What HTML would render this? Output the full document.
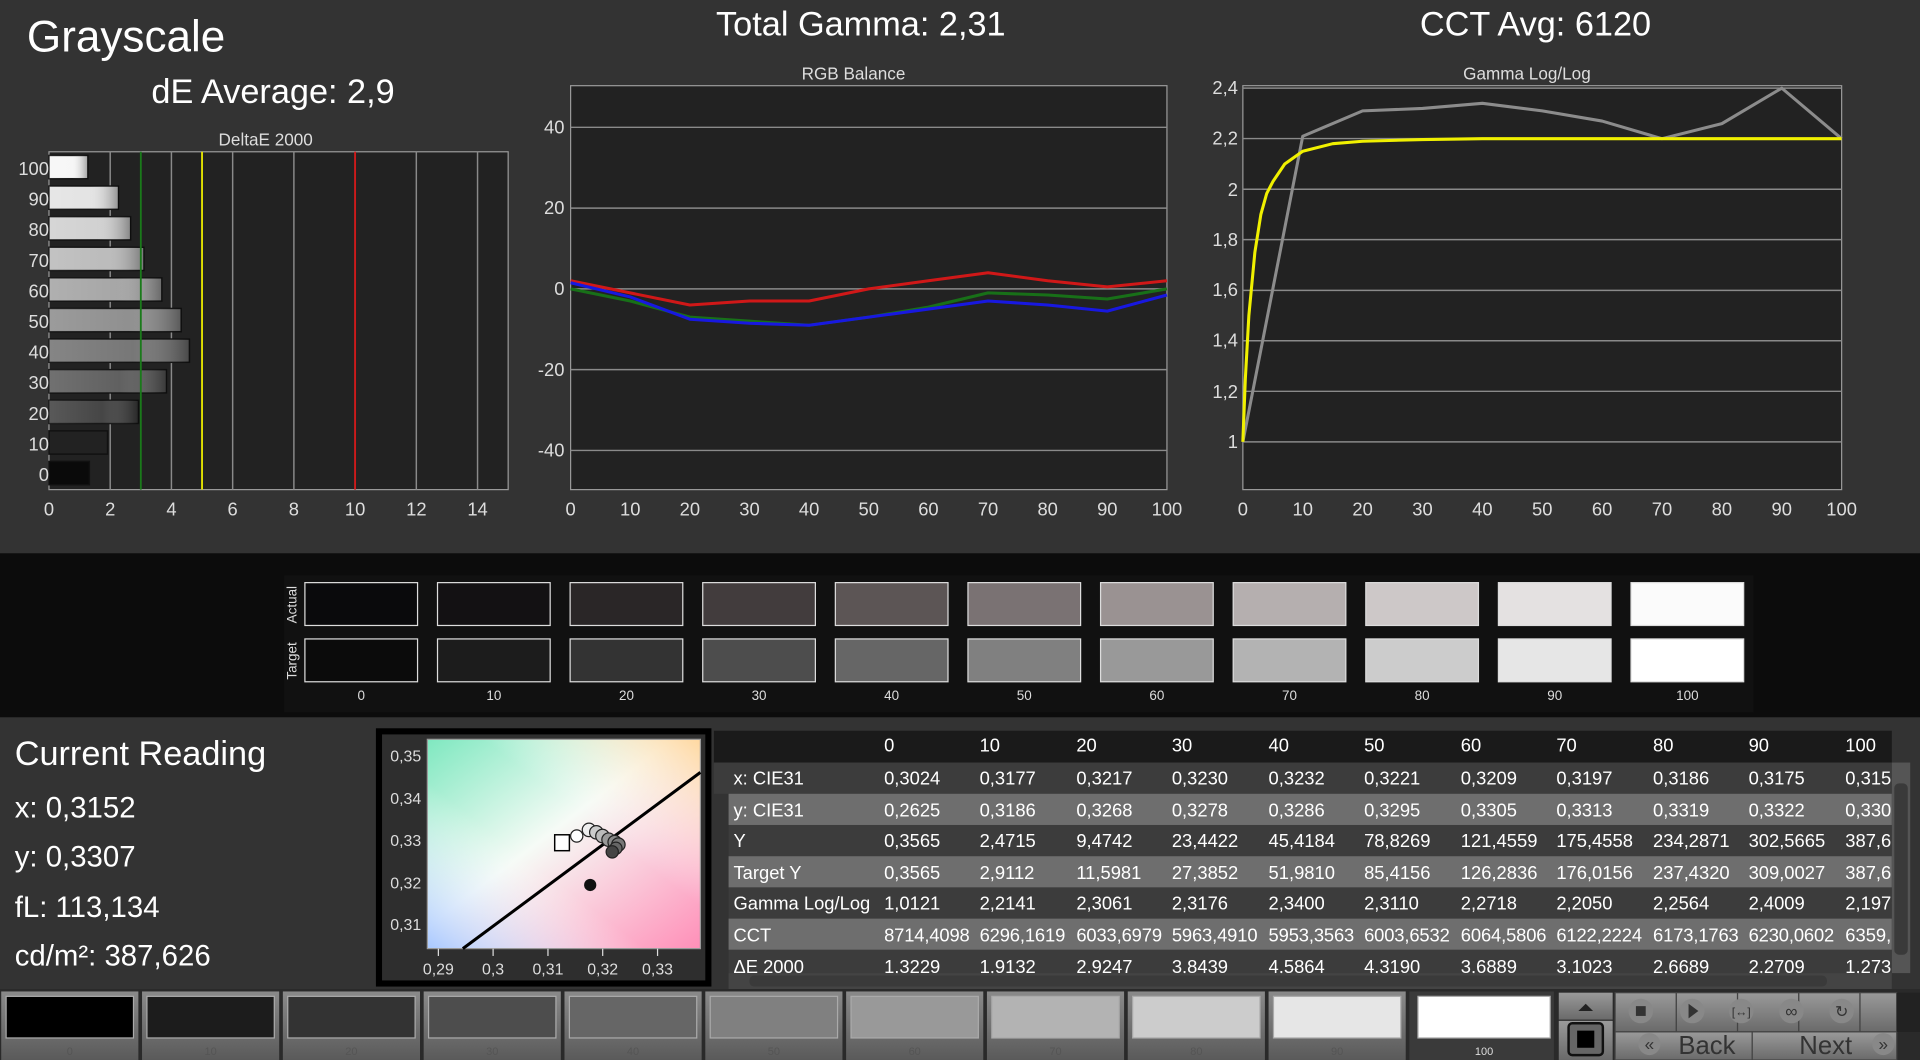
<!DOCTYPE html>
<html><head><meta charset="utf-8"><style>
html,body{margin:0;padding:0;background:#333;overflow:hidden}
svg{display:block}
text{font-family:"Liberation Sans",sans-serif}
</style></head><body>
<svg width="1920" height="1060" viewBox="0 0 1568 866" preserveAspectRatio="none" xmlns="http://www.w3.org/2000/svg">
<defs>
<linearGradient id="bar" x1="0" x2="1" y1="0" y2="0"><stop offset="0" stop-color="#fff" stop-opacity=".15"/><stop offset=".6" stop-color="#fff" stop-opacity=".05"/><stop offset="1" stop-color="#000" stop-opacity=".35"/></linearGradient>
<linearGradient id="cieA" x1="0" y1="0" x2="1" y2="1"><stop offset="0" stop-color="#7fe8c0"/><stop offset=".45" stop-color="#f6fbf6"/><stop offset="1" stop-color="#ff8fb8"/></linearGradient>
<linearGradient id="cieB" x1="0" y1="1" x2="1" y2="0"><stop offset="0" stop-color="#a8c8ff"/><stop offset=".4" stop-color="#fff" stop-opacity="0"/><stop offset=".6" stop-color="#fff" stop-opacity="0"/><stop offset="1" stop-color="#ffd8a0"/></linearGradient>
<linearGradient id="btn" x1="0" y1="0" x2="0" y2="1"><stop offset="0" stop-color="#8a8a8a"/><stop offset="1" stop-color="#5a5a5a"/></linearGradient>
<linearGradient id="ctl" x1="0" y1="0" x2="0" y2="1"><stop offset="0" stop-color="#9a9a9a"/><stop offset="1" stop-color="#6a6a6a"/></linearGradient>
</defs>
<rect width="1568" height="866" fill="#333"/>
<!-- Titles -->
<text x="22" y="42" font-size="36" fill="#fff">Grayscale</text>
<text x="223" y="84" font-size="28" fill="#fff" text-anchor="middle">dE Average: 2,9</text>
<text x="703" y="29" font-size="28" fill="#fff" text-anchor="middle">Total Gamma: 2,31</text>
<text x="1254" y="29" font-size="28" fill="#fff" text-anchor="middle">CCT Avg: 6120</text>

<!-- DeltaE chart -->
<text x="217" y="119" font-size="14" fill="#ddd" text-anchor="middle">DeltaE 2000</text>
<rect x="40" y="124" width="375" height="276" fill="#222" stroke="#999"/>
<g stroke="#8a8a8a" stroke-width="1.2">
<line x1="90" y1="124" x2="90" y2="400"/><line x1="140" y1="124" x2="140" y2="400"/><line x1="190" y1="124" x2="190" y2="400"/><line x1="240" y1="124" x2="240" y2="400"/><line x1="290" y1="124" x2="290" y2="400"/><line x1="340" y1="124" x2="340" y2="400"/><line x1="390" y1="124" x2="390" y2="400"/>
</g>
<g stroke="#111" stroke-width="1.2">
<rect x="40" y="127" width="31.8" height="19" fill="#f6f6f6"/>
<rect x="40" y="152" width="56.8" height="19" fill="#e2e2e2"/>
<rect x="40" y="177" width="66.7" height="19" fill="#cfcfcf"/>
<rect x="40" y="202" width="77.6" height="19" fill="#b8b8b8"/>
<rect x="40" y="227" width="92.2" height="19" fill="#a2a2a2"/>
<rect x="40" y="252" width="108" height="19" fill="#8a8a8a"/>
<rect x="40" y="277" width="114.7" height="19" fill="#707070"/>
<rect x="40" y="302" width="96" height="19" fill="#585858"/>
<rect x="40" y="327" width="73.1" height="19" fill="#3c3c3c"/>
<rect x="40" y="352" width="47.8" height="19" fill="#222"/>
<rect x="40" y="377" width="33" height="19" fill="#0a0a0a"/>
</g>
<g fill="url(#bar)"><rect x="40" y="127" width="31.8" height="19"/><rect x="40" y="152" width="56.8" height="19"/><rect x="40" y="177" width="66.7" height="19"/><rect x="40" y="202" width="77.6" height="19"/><rect x="40" y="227" width="92.2" height="19"/><rect x="40" y="252" width="108" height="19"/><rect x="40" y="277" width="114.7" height="19"/><rect x="40" y="302" width="96" height="19"/><rect x="40" y="327" width="73.1" height="19"/></g>
<line x1="115" y1="124" x2="115" y2="400" stroke="#1a7a1a" stroke-width="1.5"/>
<line x1="165" y1="124" x2="165" y2="400" stroke="#e8e800" stroke-width="1.5"/>
<line x1="290" y1="124" x2="290" y2="400" stroke="#d01818" stroke-width="1.5"/>
<g font-size="15" fill="#ddd" text-anchor="end">
<text x="40" y="143">100</text><text x="40" y="168">90</text><text x="40" y="193">80</text><text x="40" y="218">70</text><text x="40" y="243">60</text><text x="40" y="268">50</text><text x="40" y="293">40</text><text x="40" y="318">30</text><text x="40" y="343">20</text><text x="40" y="368">10</text><text x="40" y="393">0</text>
</g>
<g font-size="15" fill="#ddd" text-anchor="middle">
<text x="40" y="421">0</text><text x="90" y="421">2</text><text x="140" y="421">4</text><text x="190" y="421">6</text><text x="240" y="421">8</text><text x="290" y="421">10</text><text x="340" y="421">12</text><text x="390" y="421">14</text>
</g>

<!-- RGB Balance -->
<text x="697" y="65" font-size="14" fill="#ddd" text-anchor="middle">RGB Balance</text>
<rect x="466" y="70" width="487" height="330" fill="#222" stroke="#999"/>
<g stroke="#8a8a8a" stroke-width="1.2">
<line x1="466" y1="104" x2="953" y2="104"/><line x1="466" y1="170" x2="953" y2="170"/><line x1="466" y1="236" x2="953" y2="236"/><line x1="466" y1="302" x2="953" y2="302"/><line x1="466" y1="368" x2="953" y2="368"/>
</g>
<g fill="none" stroke-width="2.5" stroke-linejoin="round">
<polyline stroke="#d01818" points="466,229.4 514.7,239.3 563.4,249.2 612.1,245.9 660.8,245.9 709.5,236 758.2,229.4 806.9,222.8 855.6,229.4 904.3,234.4 953,229.4"/>
<polyline stroke="#187018" points="466,236 514.7,245.9 563.4,259.1 612.1,262.4 660.8,265.7 709.5,259.1 758.2,250.9 806.9,239.3 855.6,241 904.3,244.3 953,236"/>
<polyline stroke="#1818e0" points="466,231 514.7,242.6 563.4,260.8 612.1,264.1 660.8,265.7 709.5,259.1 758.2,252.5 806.9,245.9 855.6,249.2 904.3,254.2 953,241"/>
</g>
<g font-size="15" fill="#ddd" text-anchor="end">
<text x="461" y="109">40</text><text x="461" y="175">20</text><text x="461" y="241">0</text><text x="461" y="307">-20</text><text x="461" y="373">-40</text>
</g>
<g font-size="15" fill="#ddd" text-anchor="middle">
<text x="466" y="421">0</text><text x="514.7" y="421">10</text><text x="563.4" y="421">20</text><text x="612.1" y="421">30</text><text x="660.8" y="421">40</text><text x="709.5" y="421">50</text><text x="758.2" y="421">60</text><text x="806.9" y="421">70</text><text x="855.6" y="421">80</text><text x="904.3" y="421">90</text><text x="953" y="421">100</text>
</g>

<!-- Gamma -->
<text x="1247" y="65" font-size="14" fill="#ddd" text-anchor="middle">Gamma Log/Log</text>
<rect x="1015" y="70" width="489" height="330" fill="#222" stroke="#999"/>
<g stroke="#8a8a8a" stroke-width="1.2">
<line x1="1015" y1="72" x2="1504" y2="72"/><line x1="1015" y1="113.2" x2="1504" y2="113.2"/><line x1="1015" y1="154.6" x2="1504" y2="154.6"/><line x1="1015" y1="195.8" x2="1504" y2="195.8"/><line x1="1015" y1="237.2" x2="1504" y2="237.2"/><line x1="1015" y1="278.4" x2="1504" y2="278.4"/><line x1="1015" y1="319.7" x2="1504" y2="319.7"/><line x1="1015" y1="361" x2="1504" y2="361"/>
</g>
<polyline fill="none" stroke="#8c8c8c" stroke-width="2.5" stroke-linejoin="round" points="1015,361 1063.9,111.3 1112.8,90.6 1161.7,88.6 1210.6,84.4 1259.5,90.6 1308.4,98.9 1357.3,113.3 1406.2,101 1455.1,72 1504,113.3"/>
<polyline fill="none" stroke="#f0f000" stroke-width="2.5" stroke-linejoin="round" points="1015,361 1017,310 1019.9,257.8 1024.8,206.2 1029.7,175.2 1034.5,158 1039.5,148.4 1049.2,134 1063.9,123.6 1088.4,117.4 1112.8,115.4 1161.7,114 1210.6,113.3 1504,113.3"/>
<g font-size="15" fill="#ddd" text-anchor="end">
<text x="1011" y="77">2,4</text><text x="1011" y="118">2,2</text><text x="1011" y="160">2</text><text x="1011" y="201">1,8</text><text x="1011" y="242">1,6</text><text x="1011" y="283">1,4</text><text x="1011" y="325">1,2</text><text x="1011" y="366">1</text>
</g>
<g font-size="15" fill="#ddd" text-anchor="middle">
<text x="1015" y="421">0</text><text x="1063.9" y="421">10</text><text x="1112.8" y="421">20</text><text x="1161.7" y="421">30</text><text x="1210.6" y="421">40</text><text x="1259.5" y="421">50</text><text x="1308.4" y="421">60</text><text x="1357.3" y="421">70</text><text x="1406.2" y="421">80</text><text x="1455.1" y="421">90</text><text x="1504" y="421">100</text>
</g>

<!-- Swatch band -->
<rect x="0" y="452" width="1568" height="134" fill="#0c0c0c"/>
<rect x="232" y="470" width="1200" height="112" fill="#111"/>
<text transform="translate(242,494) rotate(-90)" font-size="11" fill="#ddd" text-anchor="middle">Actual</text>
<text transform="translate(242,540) rotate(-90)" font-size="11" fill="#ddd" text-anchor="middle">Target</text>
<g stroke="#ddd" stroke-width="1">
<rect x="249" y="476" width="92" height="35" fill="#0a0a0c"/><rect x="357.3" y="476" width="92" height="35" fill="#131113"/><rect x="465.6" y="476" width="92" height="35" fill="#2a2627"/><rect x="573.9" y="476" width="92" height="35" fill="#423c3d"/><rect x="682.2" y="476" width="92" height="35" fill="#5c5555"/><rect x="790.5" y="476" width="92" height="35" fill="#7a7273"/><rect x="898.8" y="476" width="92" height="35" fill="#9a9292"/><rect x="1007.1" y="476" width="92" height="35" fill="#b5afaf"/><rect x="1115.4" y="476" width="92" height="35" fill="#cdc8c8"/><rect x="1223.7" y="476" width="92" height="35" fill="#e4e1e1"/><rect x="1332" y="476" width="92" height="35" fill="#fbfbfb"/>
<rect x="249" y="522" width="92" height="35" fill="#0b0b0b"/><rect x="357.3" y="522" width="92" height="35" fill="#1c1c1c"/><rect x="465.6" y="522" width="92" height="35" fill="#333"/><rect x="573.9" y="522" width="92" height="35" fill="#4d4d4d"/><rect x="682.2" y="522" width="92" height="35" fill="#666"/><rect x="790.5" y="522" width="92" height="35" fill="#808080"/><rect x="898.8" y="522" width="92" height="35" fill="#999"/><rect x="1007.1" y="522" width="92" height="35" fill="#b3b3b3"/><rect x="1115.4" y="522" width="92" height="35" fill="#ccc"/><rect x="1223.7" y="522" width="92" height="35" fill="#e6e6e6"/><rect x="1332" y="522" width="92" height="35" fill="#fff"/>
</g>
<g font-size="11" fill="#ddd" text-anchor="middle">
<text x="295" y="572">0</text><text x="403.3" y="572">10</text><text x="511.6" y="572">20</text><text x="619.9" y="572">30</text><text x="728.2" y="572">40</text><text x="836.5" y="572">50</text><text x="944.8" y="572">60</text><text x="1053.1" y="572">70</text><text x="1161.4" y="572">80</text><text x="1269.7" y="572">90</text><text x="1378" y="572">100</text>
</g>

<!-- Current reading -->
<g fill="#fff">
<text x="12" y="625" font-size="28">Current Reading</text>
<text x="12" y="668" font-size="24">x: 0,3152</text>
<text x="12" y="708" font-size="24">y: 0,3307</text>
<text x="12" y="749" font-size="24">fL: 113,134</text>
<text x="12" y="789" font-size="24">cd/m²: 387,626</text>
</g>

<!-- CIE -->
<rect x="307" y="595" width="274" height="211" fill="#000"/>
<rect x="312" y="600" width="264" height="201" fill="#2e2e2e"/>
<rect x="349" y="604" width="223" height="171" fill="url(#cieA)"/>
<rect x="349" y="604" width="223" height="171" fill="url(#cieB)"/>
<rect x="349" y="604" width="223" height="171" fill="none" stroke="#999"/>
<line x1="378" y1="775" x2="572" y2="631" stroke="#000" stroke-width="2.5"/>
<rect x="453" y="682" width="12" height="13" fill="#fff" stroke="#000" stroke-width="1.2"/>
<g stroke="#222" stroke-width="1">
<circle cx="471" cy="683" r="5" fill="#fff"/><circle cx="481" cy="678" r="5.5" fill="#eee"/><circle cx="487" cy="680" r="5.5" fill="#ccc"/><circle cx="492" cy="683" r="5.5" fill="#bbb"/><circle cx="497" cy="686" r="5.5" fill="#999"/><circle cx="502" cy="688" r="5.5" fill="#888"/><circle cx="505" cy="690" r="5.5" fill="#777"/><circle cx="503" cy="693" r="5" fill="#666"/><circle cx="500" cy="696" r="5" fill="#444"/>
</g>
<circle cx="482" cy="723" r="5" fill="#111"/>
<g font-size="13" fill="#ddd" text-anchor="end">
<text x="344" y="622">0,35</text><text x="344" y="657">0,34</text><text x="344" y="691">0,33</text><text x="344" y="726">0,32</text><text x="344" y="760">0,31</text>
</g>
<g stroke="#ddd"><line x1="358" y1="775" x2="358" y2="781"/><line x1="402.7" y1="775" x2="402.7" y2="781"/><line x1="447.5" y1="775" x2="447.5" y2="781"/><line x1="492.2" y1="775" x2="492.2" y2="781"/><line x1="537" y1="775" x2="537" y2="781"/></g>
<g font-size="13" fill="#ddd" text-anchor="middle">
<text x="358" y="796">0,29</text><text x="402.7" y="796">0,3</text><text x="447.5" y="796">0,31</text><text x="492.2" y="796">0,32</text><text x="537" y="796">0,33</text>
</g>

<!-- Table -->
<rect x="583" y="597" width="962" height="26" fill="#1a1a1a"/>
<rect x="583" y="623" width="962" height="25.5" fill="#3c3c3c"/>
<rect x="595" y="648.5" width="950" height="25.5" fill="#6e6e6e"/>
<rect x="595" y="674" width="950" height="25.5" fill="#3c3c3c"/>
<rect x="595" y="699.5" width="950" height="25.5" fill="#6e6e6e"/>
<rect x="595" y="725" width="950" height="25.5" fill="#3c3c3c"/>
<rect x="595" y="750.5" width="950" height="25.5" fill="#6e6e6e"/>
<rect x="595" y="776" width="950" height="19" fill="#3c3c3c"/>
<rect x="595" y="795" width="950" height="13" fill="#444"/>
<rect x="612" y="797" width="880" height="9" rx="4" fill="#3a3a3a"/>
<rect x="1545" y="623" width="15" height="172" fill="#555"/>
<rect x="1547" y="640" width="11" height="140" rx="4" fill="#3a3a3a"/>
<g font-size="15" fill="#fff">
<text x="722" y="614">0</text><text x="800" y="614">10</text><text x="879" y="614">20</text><text x="957" y="614">30</text><text x="1036" y="614">40</text><text x="1114" y="614">50</text><text x="1193" y="614">60</text><text x="1271" y="614">70</text><text x="1350" y="614">80</text><text x="1428" y="614">90</text><text x="1507" y="614">100</text>
</g>
<svg x="595" y="623" width="950" height="172" viewBox="595 623 950 172" overflow="hidden">
<g font-size="15" fill="#fff">
<text x="599" y="641">x: CIE31</text><text x="722" y="641">0,3024</text><text x="800" y="641">0,3177</text><text x="879" y="641">0,3217</text><text x="957" y="641">0,3230</text><text x="1036" y="641">0,3232</text><text x="1114" y="641">0,3221</text><text x="1193" y="641">0,3209</text><text x="1271" y="641">0,3197</text><text x="1350" y="641">0,3186</text><text x="1428" y="641">0,3175</text><text x="1507" y="641">0,3152</text>
<text x="599" y="667">y: CIE31</text><text x="722" y="667">0,2625</text><text x="800" y="667">0,3186</text><text x="879" y="667">0,3268</text><text x="957" y="667">0,3278</text><text x="1036" y="667">0,3286</text><text x="1114" y="667">0,3295</text><text x="1193" y="667">0,3305</text><text x="1271" y="667">0,3313</text><text x="1350" y="667">0,3319</text><text x="1428" y="667">0,3322</text><text x="1507" y="667">0,3307</text>
<text x="599" y="692">Y</text><text x="722" y="692">0,3565</text><text x="800" y="692">2,4715</text><text x="879" y="692">9,4742</text><text x="957" y="692">23,4422</text><text x="1036" y="692">45,4184</text><text x="1114" y="692">78,8269</text><text x="1193" y="692">121,4559</text><text x="1271" y="692">175,4558</text><text x="1350" y="692">234,2871</text><text x="1428" y="692">302,5665</text><text x="1507" y="692">387,626</text>
<text x="599" y="718">Target Y</text><text x="722" y="718">0,3565</text><text x="800" y="718">2,9112</text><text x="879" y="718">11,5981</text><text x="957" y="718">27,3852</text><text x="1036" y="718">51,9810</text><text x="1114" y="718">85,4156</text><text x="1193" y="718">126,2836</text><text x="1271" y="718">176,0156</text><text x="1350" y="718">237,4320</text><text x="1428" y="718">309,0027</text><text x="1507" y="718">387,626</text>
<text x="599" y="743">Gamma Log/Log</text><text x="722" y="743">1,0121</text><text x="800" y="743">2,2141</text><text x="879" y="743">2,3061</text><text x="957" y="743">2,3176</text><text x="1036" y="743">2,3400</text><text x="1114" y="743">2,3110</text><text x="1193" y="743">2,2718</text><text x="1271" y="743">2,2050</text><text x="1350" y="743">2,2564</text><text x="1428" y="743">2,4009</text><text x="1507" y="743">2,1970</text>
<text x="599" y="769">CCT</text><text x="722" y="769" textLength="70">8714,4098</text><text x="800" y="769" textLength="70">6296,1619</text><text x="879" y="769" textLength="70">6033,6979</text><text x="957" y="769" textLength="70">5963,4910</text><text x="1036" y="769" textLength="70">5953,3563</text><text x="1114" y="769" textLength="70">6003,6532</text><text x="1193" y="769" textLength="70">6064,5806</text><text x="1271" y="769" textLength="70">6122,2224</text><text x="1350" y="769" textLength="70">6173,1763</text><text x="1428" y="769" textLength="70">6230,0602</text><text x="1507" y="769">6359,1</text>
<text x="599" y="795">ΔE 2000</text><text x="722" y="795">1,3229</text><text x="800" y="795">1,9132</text><text x="879" y="795">2,9247</text><text x="957" y="795">3,8439</text><text x="1036" y="795">4,5864</text><text x="1114" y="795">4,3190</text><text x="1193" y="795">3,6889</text><text x="1271" y="795">3,1023</text><text x="1350" y="795">2,6689</text><text x="1428" y="795">2,2709</text><text x="1507" y="795">1,2731</text>
</g>
</svg>

<!-- Bottom buttons -->
<rect x="0" y="808" width="1568" height="58" fill="#2a2a2a"/>
<g>
<rect x="1" y="810" width="112" height="56" fill="url(#btn)"/><rect x="5" y="814" width="104" height="34" fill="#000" stroke="#aaa"/>
<rect x="116" y="810" width="112" height="56" fill="url(#btn)"/><rect x="120" y="814" width="104" height="34" fill="#1c1c1c" stroke="#aaa"/>
<rect x="231" y="810" width="112" height="56" fill="url(#btn)"/><rect x="235" y="814" width="104" height="34" fill="#333" stroke="#aaa"/>
<rect x="346" y="810" width="112" height="56" fill="url(#btn)"/><rect x="350" y="814" width="104" height="34" fill="#4d4d4d" stroke="#aaa"/>
<rect x="461" y="810" width="112" height="56" fill="url(#btn)"/><rect x="465" y="814" width="104" height="34" fill="#666" stroke="#aaa"/>
<rect x="576" y="810" width="112" height="56" fill="url(#btn)"/><rect x="580" y="814" width="104" height="34" fill="#808080" stroke="#aaa"/>
<rect x="691" y="810" width="112" height="56" fill="url(#btn)"/><rect x="695" y="814" width="104" height="34" fill="#999" stroke="#aaa"/>
<rect x="806" y="810" width="112" height="56" fill="url(#btn)"/><rect x="810" y="814" width="104" height="34" fill="#b3b3b3" stroke="#aaa"/>
<rect x="921" y="810" width="112" height="56" fill="url(#btn)"/><rect x="925" y="814" width="104" height="34" fill="#ccc" stroke="#aaa"/>
<rect x="1036" y="810" width="112" height="56" fill="url(#btn)"/><rect x="1040" y="814" width="104" height="34" fill="#e6e6e6" stroke="#aaa"/>
<rect x="1151" y="810" width="118" height="56" fill="#3a3a3a"/><rect x="1158" y="814" width="108" height="34" fill="#fff" stroke="#aaa"/>
</g>
<g font-size="9" fill="#555" text-anchor="middle">
<text x="57" y="862">0</text><text x="172" y="862">10</text><text x="287" y="862">20</text><text x="402" y="862">30</text><text x="517" y="862">40</text><text x="632" y="862">50</text><text x="747" y="862">60</text><text x="862" y="862">70</text><text x="977" y="862">80</text><text x="1092" y="862">90</text><text x="1212" y="862" fill="#ddd">100</text>
</g>
<!-- controls -->
<rect x="1272" y="810" width="296" height="56" fill="#2a2a2a"/>
<rect x="1273" y="811" width="44" height="22" fill="url(#ctl)"/>
<path d="M1289 826 L1295 820 L1301 826Z" fill="#222"/>
<rect x="1273" y="834" width="44" height="32" fill="url(#ctl)"/>
<rect x="1281" y="836" width="28" height="26" rx="3" fill="#666" stroke="#111" stroke-width="2"/>
<rect x="1288" y="842" width="14" height="14" fill="#000"/>
<g fill="url(#ctl)" stroke="#444">
<rect x="1319" y="811" width="50" height="32"/><rect x="1369" y="811" width="50" height="32"/><rect x="1419" y="811" width="50" height="32"/><rect x="1469" y="811" width="50" height="32"/><rect x="1519" y="811" width="30" height="32"/>
<rect x="1319" y="843" width="112" height="23"/><rect x="1431" y="843" width="118" height="23"/>
</g>
<rect x="1549" y="811" width="19" height="32" fill="#222"/>
<g fill="#888"><circle cx="1340" cy="826" r="10"/><circle cx="1382" cy="826" r="10"/><circle cx="1422" cy="826" r="10"/><circle cx="1463" cy="826" r="10"/><circle cx="1504" cy="826" r="10"/></g>
<rect x="1336" y="822" width="8" height="8" fill="#333"/>
<path d="M1379 820 L1387 826 L1379 832Z" fill="#333"/>
<text x="1422" y="830" font-size="10" fill="#333" text-anchor="middle">[↔]</text>
<text x="1463" y="831" font-size="14" fill="#333" text-anchor="middle">∞</text>
<text x="1504" y="831" font-size="13" fill="#333" text-anchor="middle">↻</text>
<circle cx="1347" cy="853" r="9" fill="#888"/><text x="1347" y="858" font-size="14" fill="#333" text-anchor="middle">«</text>
<text x="1394" y="861" font-size="21" fill="#333" text-anchor="middle">Back</text>
<text x="1491" y="861" font-size="21" fill="#333" text-anchor="middle">Next</text>
<circle cx="1538" cy="853" r="9" fill="#888"/><text x="1538" y="858" font-size="14" fill="#333" text-anchor="middle">»</text>
</svg>
</body></html>
